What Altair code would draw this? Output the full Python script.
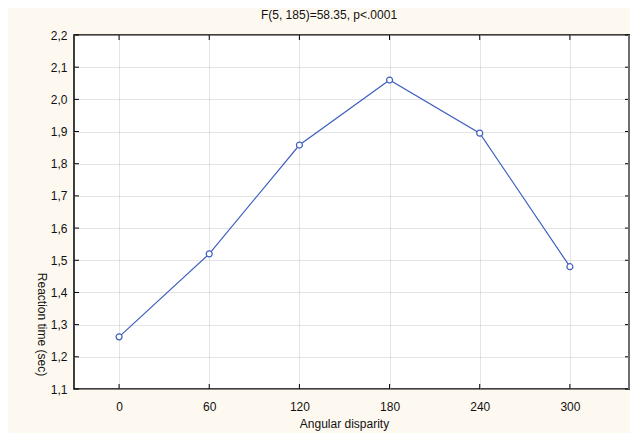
import altair as alt
import pandas as pd

angles = [0, 60, 120, 180, 240, 300]
rt = [1.262, 1.52, 1.858, 2.06, 1.895, 1.48]
x_ticks = [0, 60, 120, 180, 240, 300]
y_ticks = [1.1, 1.2, 1.3, 1.4, 1.5, 1.6, 1.7, 1.8, 1.9, 2.0, 2.1, 2.2]

W, H = 556, 354
BLUE = "#3f5fbf"
FONT = "Liberation Sans"

df = pd.DataFrame({"angle": angles, "rt": rt})
xt = pd.DataFrame({"t": x_ticks})
yt = pd.DataFrame({"t": y_ticks})

xs = alt.Scale(domain=[-30, 340], nice=False, zero=False)
ys = alt.Scale(domain=[1.1, 2.2], nice=False, zero=False)

x_axis = alt.Axis(values=x_ticks, title="Angular disparity", ticks=False, domain=False,
                  labelPadding=12, labelFontSize=12, labelFont=FONT, labelColor="#111",
                  labelOverlap=False,
                  titleFontSize=12, titleFont=FONT, titleFontWeight="normal", titleColor="#111",
                  titleX=270, titleY=34, titleBaseline="middle", titleAlign="center",
                  grid=True, gridColor="#c8c8c8", gridDash=[1, 1], gridWidth=1)
y_axis = alt.Axis(values=y_ticks, title="Reaction time (sec)", ticks=False, domain=False,
                  labelExpr="replace(format(datum.value, '.1f'), '.', ',')",
                  labelOverlap=False, labelBound=False, labelFlush=False,
                  labelPadding=7, labelFontSize=12, labelFont=FONT, labelColor="#111",
                  titleFontSize=12, titleFont=FONT, titleFontWeight="normal", titleColor="#111",
                  titleAngle=90, titleX=-33, titleY=289, titleAlign="center", titleBaseline="middle",
                  grid=True, gridColor="#c8c8c8", gridDash=[1, 1], gridWidth=1)

line = alt.Chart(df).mark_line(color=BLUE, strokeWidth=1.2).encode(
    x=alt.X("angle:Q", scale=xs, axis=x_axis),
    y=alt.Y("rt:Q", scale=ys, axis=y_axis),
)
pts = alt.Chart(df).mark_point(shape="circle", size=36, filled=True, fill="white",
                               stroke=BLUE, strokeWidth=1.2, opacity=1).encode(
    x=alt.X("angle:Q", scale=xs, axis=x_axis),
    y=alt.Y("rt:Q", scale=ys, axis=y_axis),
)

tick_top = alt.Chart(xt).mark_rule(color="#000", strokeWidth=1).encode(
    x=alt.X("t:Q", scale=xs, axis=x_axis), y=alt.value(0), y2=alt.value(5))
tick_bot = alt.Chart(xt).mark_rule(color="#000", strokeWidth=1).encode(
    x=alt.X("t:Q", scale=xs, axis=x_axis), y=alt.value(H - 5), y2=alt.value(H))
tick_left = alt.Chart(yt).mark_rule(color="#000", strokeWidth=1).encode(
    y=alt.Y("t:Q", scale=ys, axis=y_axis), x=alt.value(0), x2=alt.value(5))
tick_right = alt.Chart(yt).mark_rule(color="#000", strokeWidth=1).encode(
    y=alt.Y("t:Q", scale=ys, axis=y_axis), x=alt.value(W - 5), x2=alt.value(W))
right_border = alt.Chart(yt).mark_rule(color="#6e6e6e", strokeWidth=3).encode(
    x=alt.value(W), y=alt.value(0), y2=alt.value(H))

chart = alt.layer(line, tick_top, tick_bot, tick_left, tick_right, pts, right_border).properties(
    width=W, height=H,
    title=alt.TitleParams("F(5, 185)=58.35, p<.0001", fontSize=12, font=FONT,
                          fontWeight="normal", color="#111", offset=7, dx=-23),
    autosize=alt.AutoSizeParams(type="none"),
    padding={"left": 66, "top": 27, "right": 0, "bottom": 44},
    background="#fef9f0",
).configure_view(stroke="#000", strokeWidth=1.5, fill="white")

chart.save("out.html", embed_options={"renderer": "svg", "actions": False})
